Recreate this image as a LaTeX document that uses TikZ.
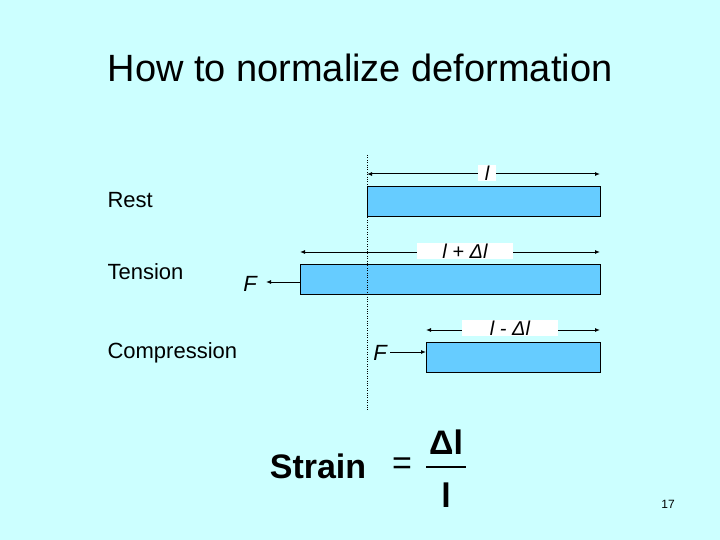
\documentclass[tikz,border=0pt]{standalone}
\usepackage{fontspec}
\setmainfont{Liberation Sans}
\usetikzlibrary{arrows.meta}
\definecolor{bg}{HTML}{CCFFFF}
\definecolor{bar}{HTML}{66CCFF}
\begin{document}
\begin{tikzpicture}[x=1pt,y=-1pt,
  barbox/.style={draw=black,fill=bar,line width=0.8pt,anchor=north west,inner sep=0pt},
  dim/.style={{Latex[length=5pt,width=4pt]}-{Latex[length=5pt,width=4pt]},line width=1pt},
  dimlab/.style={fill=white,inner sep=1pt,font=\fontsize{20}{22}\selectfont\itshape},
  lab/.style={anchor=west,font=\fontsize{22}{24}\selectfont},
  force/.style={-{Latex[length=5pt,width=4pt]},line width=1pt},
  eqf/.style={font=\fontsize{34}{40}\selectfont\bfseries}]
\useasboundingbox[fill=bg] (0,0) rectangle (720,540);
\node (title) at (360,68) {\fontsize{38}{42}\selectfont How to normalize deformation};
\node[lab] (rest) at (104,200) {Rest};
\node[lab] (tens) at (104,272) {Tension};
\node[lab] (comp) at (104,353) {Compression};
\node[barbox,minimum width=233pt,minimum height=30pt] (b1) at (367,186) {};
\node[barbox,minimum width=300pt,minimum height=30pt] (b2) at (300,264) {};
\node[barbox,minimum width=174pt,minimum height=30pt] (b3) at (426,342) {};
\coordinate (d1a) at (367,174); \coordinate (d1b) at (600,174);
\coordinate (d2a) at (300,252); \coordinate (d2b) at (600,252);
\coordinate (d3a) at (426,330); \coordinate (d3b) at (600,330);
\draw[dim] (d1a) -- (d1b);
\draw[dim] (d2a) -- (d2b);
\draw[dim] (d3a) -- (d3b);
\node[dimlab,minimum width=18pt] (l1) at (487,173) {l};
\node[dimlab,minimum width=96pt] (l2) at (465,251) {l + Δl};
\node[dimlab,minimum width=96pt] (l3) at (510,328) {l - Δl};
\draw[dotted] (367,155) -- (367,410);
\node[font=\fontsize{22}{24}\selectfont\itshape] (f1) at (250,284) {F};
\draw[force] (b2.west |- 0,282) -- (266,282);
\node[font=\fontsize{22}{24}\selectfont\itshape] (f2) at (380,353) {F};
\draw[force] (390,352) -- (b3.west |- 0,352);
\node[eqf] (strain) at (318,466) {Strain};
\node[font=\fontsize{34}{40}\selectfont] (eqs) at (402,466) {=};
\node[eqf] (num) at (446,442) {Δl};
\node[eqf] (den) at (446,495) {l};
\draw[line width=1.2pt] (426,467) -- (466,467);
\node (pg) at (668,504) {\fontsize{12}{14}\selectfont 17};
\end{tikzpicture}
\end{document}
